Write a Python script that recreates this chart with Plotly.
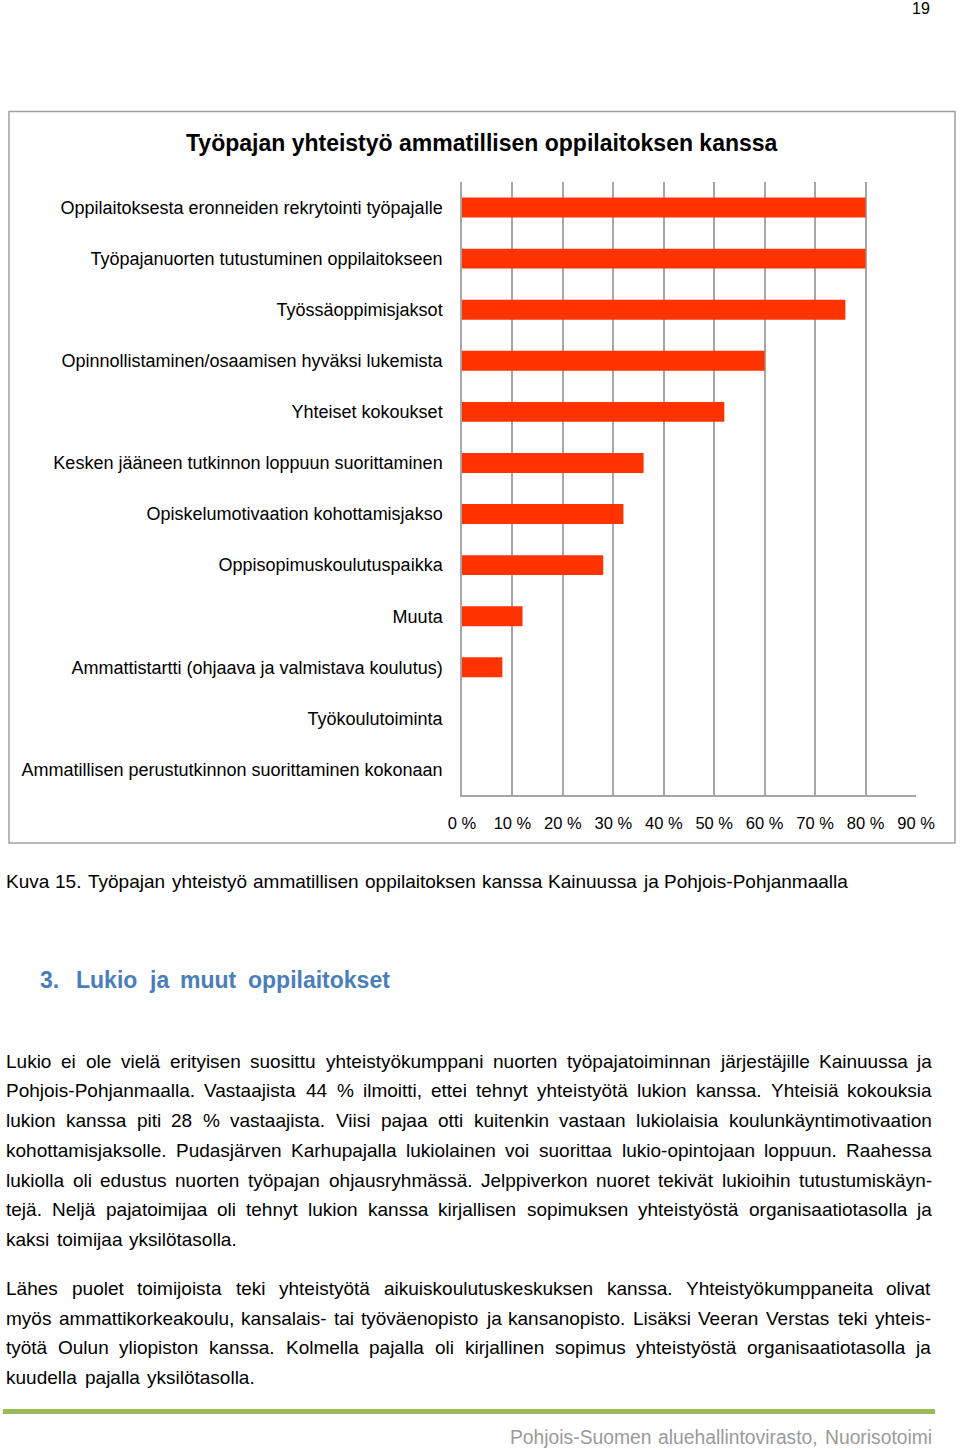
import plotly.graph_objects as go

W, H = 960, 1450
FONT = "Liberation Sans, Arial, sans-serif"

# ---------------- chart data ----------------
categories = [
    "Oppilaitoksesta eronneiden rekrytointi työpajalle",
    "Työpajanuorten tutustuminen oppilaitokseen",
    "Työssäoppimisjaksot",
    "Opinnollistaminen/osaamisen hyväksi lukemista",
    "Yhteiset kokoukset",
    "Kesken jääneen tutkinnon loppuun suorittaminen",
    "Opiskelumotivaation kohottamisjakso",
    "Oppisopimuskoulutuspaikka",
    "Muuta",
    "Ammattistartti (ohjaava ja valmistava koulutus)",
    "Työkoulutoiminta",
    "Ammatillisen perustutkinnon suorittaminen kokonaan",
]
values = [80, 80, 76, 60, 52, 36, 32, 28, 12, 8, 0, 0]
tick_vals = [0, 10, 20, 30, 40, 50, 60, 70, 80, 90]
tick_text = ["0 %", "10 %", "20 %", "30 %", "40 %", "50 %", "60 %", "70 %", "80 %", "90 %"]

chart_title = "Työpajan yhteistyö ammatillisen oppilaitoksen kanssa"
caption = "Kuva 15. Työpajan yhteistyö ammatillisen oppilaitoksen kanssa Kainuussa ja Pohjois-Pohjanmaalla"
heading_num = "3."
heading_text = "Lukio ja muut oppilaitokset"
paragraph1 = [
    "Lukio ei ole vielä erityisen suosittu yhteistyökumppani nuorten työpajatoiminnan järjestäjille Kainuussa ja",
    "Pohjois-Pohjanmaalla. Vastaajista 44 % ilmoitti, ettei tehnyt yhteistyötä lukion kanssa. Yhteisiä kokouksia",
    "lukion kanssa piti 28 % vastaajista. Viisi pajaa otti kuitenkin vastaan lukiolaisia koulunkäyntimotivaation",
    "kohottamisjaksolle. Pudasjärven Karhupajalla lukiolainen voi suorittaa lukio-opintojaan loppuun. Raahessa",
    "lukiolla oli edustus nuorten työpajan ohjausryhmässä. Jelppiverkon nuoret tekivät lukioihin tutustumiskäyn-",
    "tejä. Neljä pajatoimijaa oli tehnyt lukion kanssa kirjallisen sopimuksen yhteistyöstä organisaatiotasolla ja",
    "kaksi toimijaa yksilötasolla.",
]
paragraph2 = [
    "Lähes puolet toimijoista teki yhteistyötä aikuiskoulutuskeskuksen kanssa. Yhteistyökumppaneita olivat",
    "myös ammattikorkeakoulu, kansalais- tai työväenopisto ja kansanopisto. Lisäksi Veeran Verstas teki yhteis-",
    "työtä Oulun yliopiston kanssa. Kolmella pajalla oli kirjallinen sopimus yhteistyöstä organisaatiotasolla ja",
    "kuudella pajalla yksilötasolla.",
]
footer_text = "Pohjois-Suomen aluehallintovirasto, Nuorisotoimi"
page_number = "19"

# ---------------- helpers ----------------
def px(x):
    return x / W

def py(y):
    return 1 - y / H

WID = {" ": 278, "a": 556, "b": 556, "c": 500, "d": 556, "e": 556, "f": 278, "g": 556,
       "h": 556, "i": 222, "j": 222, "k": 500, "l": 222, "m": 833, "n": 556, "o": 556,
       "p": 556, "q": 556, "r": 333, "s": 500, "t": 278, "u": 556, "v": 500, "w": 722,
       "x": 500, "y": 500, "z": 500, "ä": 556, "ö": 556, "å": 556,
       "A": 667, "B": 667, "C": 722, "D": 722, "E": 667, "F": 611, "G": 778, "H": 722,
       "I": 278, "J": 500, "K": 667, "L": 556, "M": 833, "N": 722, "O": 778, "P": 667,
       "Q": 778, "R": 722, "S": 667, "T": 611, "U": 722, "V": 667, "W": 944, "X": 667,
       "Y": 667, "Z": 611, "Ä": 667, "Ö": 778,
       ".": 278, ",": 278, "-": 333, "%": 889, ":": 278, "(": 333, ")": 333, "/": 278}
WID_B = dict(WID)
WID_B.update({"a": 556, "b": 611, "c": 556, "d": 611, "e": 556, "f": 333, "g": 611, "h": 611,
              "i": 278, "j": 278, "k": 556, "l": 278, "m": 889, "n": 611, "o": 611, "p": 611,
              "q": 611, "r": 389, "s": 556, "t": 333, "u": 611, "v": 556, "w": 778, "x": 556,
              "y": 556, "z": 500, "ä": 556, "ö": 611, "L": 611, ".": 278, "-": 333})

def wwidth(word, size, bold=False):
    table = WID_B if bold else WID
    return sum(table.get(c, 556) for c in word) * size / 1000.0

annotations = []

def ann(text, x, y, size, color, xanchor):
    annotations.append(dict(text=text, x=px(x), y=py(y), xref="paper", yref="paper",
                            xanchor=xanchor, yanchor="middle", showarrow=False,
                            borderpad=0, borderwidth=0,
                            font=dict(family=FONT, size=size, color=color)))

def place_line(text, x0, y, size, color="#000000", x1=None, bold=False):
    words = text.split(" ")
    if x1 is None or len(words) == 1:
        ann("<b>%s</b>" % text if bold else text, x0, y, size, color, "left")
        return
    widths = [wwidth(w, size, bold) for w in words]
    gap = (x1 - x0 - sum(widths)) / (len(words) - 1)
    x = x0
    for i, w in enumerate(words):
        t = "<b>%s</b>" % w if bold else w
        if i == len(words) - 1:
            ann(t, x1, y, size, color, "right")
        else:
            ann(t, x, y, size, color, "left")
        x += widths[i] + gap

# ---------------- figure ----------------
fig = go.Figure()
fig.add_trace(go.Bar(
    x=values, y=categories, orientation="h",
    marker=dict(color="#FF3300", line=dict(width=0)),
    hoverinfo="skip",
))

GRID = "#a6a6a6"
fig.update_layout(
    width=W, height=H, autosize=False,
    margin=dict(l=0, r=0, t=0, b=0, autoexpand=False),
    paper_bgcolor="white", plot_bgcolor="white",
    showlegend=False,
    bargap=0.61,
    font=dict(family=FONT, color="#000000"),
    xaxis=dict(
        domain=[px(462), px(916)], range=[0, 90],
        tickvals=tick_vals, ticktext=tick_text,
        showgrid=True, gridcolor=GRID, gridwidth=1.5,
        zeroline=False, showline=True, linecolor=GRID, linewidth=1.5,
        ticks="outside", ticklen=12, tickcolor="rgba(0,0,0,0)",
        tickfont=dict(family=FONT, size=16.5, color="#000000"),
        fixedrange=True,
    ),
    yaxis=dict(
        domain=[py(795), py(182)],
        type="category", categoryorder="array", categoryarray=categories,
        autorange="reversed",
        showgrid=False, zeroline=False, showline=True, linecolor=GRID, linewidth=1.5,
        ticks="outside", ticklen=14, tickcolor="rgba(0,0,0,0)",
        tickfont=dict(family=FONT, size=18, color="#000000"),
        fixedrange=True,
    ),
)

shapes = [
    # chart frame
    dict(type="rect", xref="paper", yref="paper", x0=px(9), x1=px(955), y0=py(843), y1=py(111.5),
         line=dict(color="#a0a0a0", width=1.5), fillcolor="rgba(0,0,0,0)", layer="below"),
    # footer green rule
    dict(type="rect", xref="paper", yref="paper", x0=px(3), x1=px(935), y0=py(1414), y1=py(1409),
         line=dict(width=0), fillcolor="#9BBB59"),
]

# chart title
ann("<b>%s</b>" % chart_title, 482, 143, 23, "#000000", "center")
# page number
ann(page_number, 921, 9, 16, "#000000", "center")

# caption
place_line(caption, 6, 881, 19, x1=848)
# heading
place_line(heading_num, 40, 980, 23, color="#4A7EBB", bold=True)
place_line(heading_text, 76, 980, 23, color="#4A7EBB", x1=390, bold=True)

# body text
p1_y = [1061, 1090.5, 1120, 1150, 1180, 1209.5, 1239]
for i, (line, y) in enumerate(zip(paragraph1, p1_y)):
    if i == len(paragraph1) - 1:
        place_line(line, 6, y, 19, x1=237)
    else:
        place_line(line, 6, y, 19, x1=932)

p2_y = [1288, 1318, 1347.5, 1377]
for i, (line, y) in enumerate(zip(paragraph2, p2_y)):
    if i == len(paragraph2) - 1:
        place_line(line, 6, y, 19, x1=255)
    else:
        place_line(line, 6, y, 19, x1=931)

# footer
place_line(footer_text, 510, 1437, 19.3, color="#9a9a9a", x1=932)

fig.update_layout(shapes=shapes, annotations=annotations)
fig.write_html(
    "out.html",
    config={"responsive": False, "displayModeBar": False},
    post_script="document.body.style.margin='0';document.body.style.overflow='hidden';",
)
